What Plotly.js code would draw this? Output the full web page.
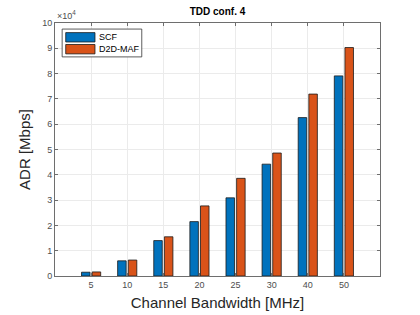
<!DOCTYPE html>
<html>
<head>
<meta charset="utf-8">
<script src="https://cdn.plot.ly/plotly-3.0.1.min.js"></script>
<style>html,body{margin:0;padding:0;background:#fff;}#chart{width:420px;height:315px;}</style>
</head>
<body>
<div id="chart"></div>
<script>
var categories = ["5", "10", "15", "20", "25", "30", "40", "50"];
var scfValues = [0.15, 0.60, 1.40, 2.15, 3.09, 4.42, 6.26, 7.91];
var d2dValues = [0.16, 0.63, 1.55, 2.77, 3.86, 4.86, 7.19, 9.03];
var seriesNames = ["SCF", "D2D-MAF"];
var colors = ["#0072BD", "#D95319"];
var yTicks = [0,1,2,3,4,5,6,7,8,9,10];

var font = "Liberation Sans, Arial, Helvetica, sans-serif";
var traces = [
  {type: "bar", x: categories, y: scfValues, name: seriesNames[0], marker: {color: colors[0], line: {color: "#1a1a1a", width: 0.8}}, showlegend: false},
  {type: "bar", x: categories, y: d2dValues, name: seriesNames[1], marker: {color: colors[1], line: {color: "#1a1a1a", width: 0.8}}, showlegend: false}
];

var axisCommon = {
  showline: true, mirror: "ticks", linecolor: "#6e6e6e", linewidth: 1,
  ticks: "inside", ticklen: 3, tickcolor: "#6e6e6e",
  showgrid: true, gridcolor: "#ebebeb", gridwidth: 1,
  zeroline: false,
  tickfont: {family: font, size: 9, color: "#4d4d4d"}
};

var layout = {
  width: 420, height: 315,
  margin: {l: 55, r: 40, t: 23, b: 39},
  paper_bgcolor: "#fff", plot_bgcolor: "#fff",
  barmode: "group", bargap: 0.41, bargroupgap: 0.2,
  title: {text: "<b>TDD conf. 4</b>", font: {family: font, size: 10, color: "#000"}, x: 0.5, xanchor: "center", y: 0.962, yanchor: "middle", xref: "paper"},
  xaxis: Object.assign({}, axisCommon, {
    type: "category", range: [-1, 8],
    title: {text: "Channel Bandwidth [MHz]", font: {family: font, size: 15, color: "#262626"}, standoff: 8}
  }),
  yaxis: Object.assign({}, axisCommon, {
    range: [0, 10], tickvals: yTicks, ticktext: yTicks.map(String),
    title: {text: "ADR [Mbps]", font: {family: font, size: 15, color: "#262626"}, standoff: 7}
  }),
  annotations: [
    {xref: "paper", yref: "paper", x: 0, y: 1, xanchor: "left", yanchor: "bottom", showarrow: false,
     text: "×10<sup>4</sup>", font: {family: font, size: 9, color: "#4d4d4d"}, xshift: 0, yshift: 0},
    {xref: "paper", yref: "paper", x: 0.13, y: 0.9435, xanchor: "left", yanchor: "middle", showarrow: false,
     text: seriesNames[0], font: {family: font, size: 9, color: "#000"}},
    {xref: "paper", yref: "paper", x: 0.13, y: 0.8965, xanchor: "left", yanchor: "middle", showarrow: false,
     text: seriesNames[1], font: {family: font, size: 9, color: "#000"}}
  ],
  shapes: [
    {type: "rect", xref: "paper", yref: "paper", x0: 0.022, x1: 0.267, y0: 0.866, y1: 0.976, fillcolor: "#fff", line: {color: "#333", width: 0.8}, layer: "above"},
    {type: "rect", xref: "paper", yref: "paper", x0: 0.033, x1: 0.123, y0: 0.925, y1: 0.962, fillcolor: colors[0], line: {color: "#1a1a1a", width: 0.8}, layer: "above"},
    {type: "rect", xref: "paper", yref: "paper", x0: 0.033, x1: 0.123, y0: 0.878, y1: 0.915, fillcolor: colors[1], line: {color: "#1a1a1a", width: 0.8}, layer: "above"}
  ]
};

Plotly.newPlot("chart", traces, layout, {staticPlot: true, displayModeBar: false});
</script>
</body>
</html>
